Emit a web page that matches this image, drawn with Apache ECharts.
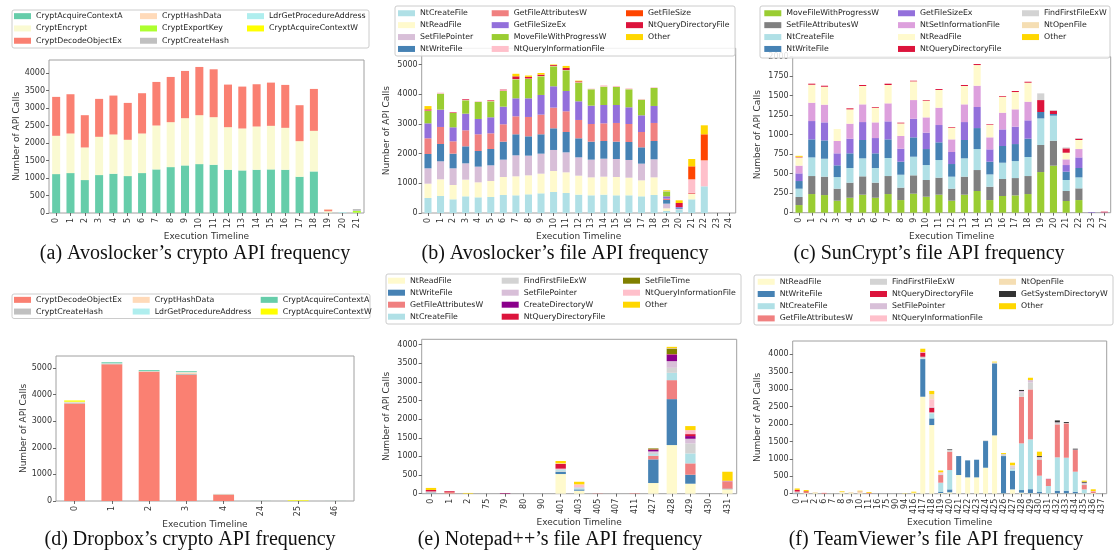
<!DOCTYPE html>
<html>
<head>
<meta charset="utf-8">
<script src="https://cdn.jsdelivr.net/npm/echarts@6/dist/echarts.min.js"></script>
<style>
html,body{margin:0;padding:0;background:#fff;}
#c{width:1115px;height:557px;}
</style>
</head>
<body>
<div id="c"></div>
<script>
// ---------- (a) Avoslocker crypto ----------
const aCats = ['0','1','2','3','4','5','6','7','8','9','10','11','12','13','14','15','16','17','18','19','20','21'];
const aCryptAcquireContextA = [1114,1143,943,1086,1124,1057,1143,1248,1314,1362,1400,1381,1238,1219,1238,1248,1238,1038,1190,10,0,5];
const aCryptEncrypt = [1096,1133,933,1095,1124,1038,1133,1257,1286,1352,1400,1362,1219,1200,1238,1247,1200,1019,1162,40,0,0];
const aCryptDecodeObjectEx = [1114,1124,924,1086,1114,1057,1153,1247,1295,1353,1381,1371,1219,1200,1210,1238,1229,1029,1200,50,0,0];
const aCryptHashData = [0,0,0,0,0,0,0,0,0,0,0,0,0,0,0,0,0,0,0,15,0,5];
const aCryptExportKey = [0,0,0,0,0,0,0,0,0,0,0,0,0,0,0,0,0,0,0,0,0,50];
const aCryptCreateHash = [0,0,0,0,0,0,0,0,0,0,0,0,0,0,0,0,0,0,0,0,0,55];
const aLdrGetProcedureAddress = [0,0,0,0,0,0,0,0,0,0,0,0,0,0,0,0,0,0,0,0,20,0];
const aCryptAcquireContextW = [0,0,0,0,0,0,0,0,0,0,0,0,0,0,0,0,0,0,0,0,0,0];

// ---------- (b) Avoslocker file ----------
const bCats = ['0','1','2','3','4','5','6','7','8','9','10','11','12','13','14','15','16','17','18','19','20','21','22','23','24'];
const bNtCreateFile = [506,573,461,562,528,539,607,596,629,663,708,674,618,596,618,596,596,562,607,67,112,461,899,0,0];
const bNtReadFile = [483,562,483,562,506,540,606,640,641,663,708,697,640,606,607,617,595,539,595,90,0,179,0,0,0];
const bSetFilePointer = [517,607,562,550,528,528,585,708,663,674,708,674,618,596,606,607,596,562,607,158,30,0,0,0,0];
const bNtWriteFile = [483,584,494,573,528,550,606,708,651,652,730,685,641,606,596,584,606,550,618,123,30,0,0,0,0];
const bGetFileAttributesW = [528,573,416,540,562,528,585,606,652,663,697,697,618,596,595,630,607,517,607,45,0,45,0,0,0];
const bGetFileSizeEx = [505,584,472,561,517,540,595,607,629,663,719,685,629,618,618,606,562,562,573,79,30,0,0,0,0];
const bMoveFileWithProgressW = [416,539,483,450,573,539,528,641,652,629,674,697,629,551,618,607,607,528,606,168,0,0,0,0,0];
const bNtQueryInformationFile = [15,34,15,10,22,14,25,10,15,10,10,10,15,22,45,34,33,23,23,10,0,450,876,0,0];
const bGetFileSize = [0,0,0,0,0,0,0,0,0,0,0,0,0,0,0,0,0,0,0,0,0,438,877,0,0];
const bNtQueryDirectoryFile = [40,0,18,23,0,20,20,90,55,45,30,70,30,0,0,0,0,0,0,0,135,0,0,0,0];
const bOther = [110,0,0,0,0,0,0,85,45,55,20,67,23,0,0,0,0,0,0,24,90,247,303,0,0];

// ---------- (c) SunCrypt file ----------
const cCats = ['0','1','2','3','4','5','6','7','8','9','10','11','12','13','14','15','16','17','18','19','20','21','22','23','27'];
const cMoveFileWithProgressW = [98,239,226,154,192,231,192,239,162,244,205,231,154,231,278,162,214,222,239,521,603,150,162,0,0];
const cSetFileAttributesW = [103,231,236,154,193,235,193,231,159,235,214,218,154,231,269,171,218,222,231,347,320,128,150,0,0];
const cNtCreateFile = [107,239,230,149,188,231,188,231,166,239,192,226,154,235,269,158,209,218,244,341,321,141,141,0,0];
const cNtWriteFile = [98,231,235,150,188,235,188,239,167,248,205,227,162,235,269,163,214,218,235,82,21,107,120,0,0];
const cGetFileSizeEx = [98,235,231,154,188,230,196,231,167,239,210,222,154,230,270,158,213,223,235,0,0,85,136,8,0];
const cNtSetInformationFile = [99,235,227,158,192,227,201,231,162,239,196,222,162,227,273,154,214,222,239,0,0,73,107,0,5];
const cNtReadFile = [106,231,230,154,184,235,188,235,162,240,214,227,150,235,265,158,205,222,244,0,0,85,116,0,0];
const cNtQueryDirectoryFile = [8,13,13,0,13,13,9,17,9,8,8,12,8,13,13,8,9,13,12,153,43,56,17,0,8];
const cFindFirstFileExW = [0,0,0,0,0,0,0,0,0,0,0,0,0,0,0,0,0,0,0,86,8,13,8,0,0];
const cNtOpenFile = [0,0,0,0,0,0,0,0,0,0,0,0,0,0,0,0,0,0,0,0,0,0,0,0,0];
const cOther = [12,0,0,0,0,0,0,0,0,0,0,0,0,0,0,0,0,0,0,0,0,0,0,0,0];

// ---------- (d) Dropbox crypto ----------
const dCats = ['0','1','2','3','4','24','25','46'];
const dCryptDecodeObjectEx = [3660,5140,4860,4735,240,0,0,0];
const dCryptCreateHash = [40,15,10,40,10,0,0,0];
const dCryptHashData = [15,10,10,60,10,0,0,0];
const dLdrGetProcedureAddress = [5,10,0,20,0,0,0,0];
const dCryptAcquireContextA = [10,40,40,30,5,3,0,2];
const dCryptAcquireContextW = [50,0,0,0,0,0,25,0];

// ---------- (e) Notepad++ file ----------
const eCats = ['0','1','2','75','79','80','90','401','403','405','407','411','427','428','429','430','431'];
const eNtReadFile = [10,5,5,0,0,0,0,527,80,0,0,0,286,1304,268,0,120];
const eNtWriteFile = [15,0,0,0,0,0,0,55,35,0,0,0,634,1232,241,0,15];
const eGetFileAttributesW = [10,40,0,0,0,0,0,10,0,8,0,12,98,509,304,0,178];
const eNtCreateFile = [15,5,0,0,0,0,0,40,30,0,0,0,44,196,267,0,8];
const eFindFirstFileExW = [5,0,0,0,0,0,0,20,20,0,0,0,36,134,268,0,5];
const eSetFilePointer = [5,0,0,0,0,0,0,20,15,0,0,0,36,179,125,0,5];
const eCreateDirectoryW = [0,0,0,0,12,0,0,0,0,0,0,0,40,178,72,0,0];
const eNtQueryDirectoryFile = [40,20,0,0,6,0,0,125,0,0,0,0,15,10,53,0,17];
const eSetFileTime = [0,0,0,0,0,0,0,0,0,0,0,0,25,151,0,0,0];
const eNtQueryInformationFile = [0,0,0,0,0,0,0,15,70,0,0,0,0,10,107,0,0];
const eOther = [55,0,15,0,0,0,0,65,70,0,0,0,0,35,108,0,241];

// ---------- (f) TeamViewer file ----------
const fCats = ['0','1','2','6','7','8','9','10','11','16','75','90','94','416','417','418','419','420','421','422','423','424','425','426','427','428','429','430','431','432','433','434','435','436','437'];
const fNtReadFile = [10,20,25,0,3,40,30,40,0,0,0,0,10,30,2785,1971,20,40,536,469,469,746,1675,10,124,30,15,10,5,10,10,10,10,20,0];
const fNtWriteFile = [15,0,0,0,0,0,0,0,0,0,0,0,0,0,1081,192,40,84,545,488,507,766,2067,1071,536,75,115,38,0,76,76,47,0,0,0];
const fNtCreateFile = [15,0,0,0,0,0,0,0,0,0,0,0,0,0,20,143,256,555,0,0,0,0,0,0,39,1340,1430,469,215,957,947,575,114,0,0];
const fGetFileAttributesW = [30,30,0,20,0,0,0,20,25,0,0,0,0,0,0,0,220,527,0,0,0,0,0,0,0,1340,1435,450,191,947,986,622,125,47,0];
const fFindFirstFileExW = [0,0,0,0,0,0,0,0,0,0,0,0,0,0,47,30,20,48,0,0,0,19,20,58,60,124,200,50,0,40,10,0,30,0,0];
const fNtQueryDirectoryFile = [40,20,0,0,0,0,0,0,0,0,0,0,0,0,120,134,0,0,0,0,0,0,0,0,0,0,0,0,10,0,0,0,0,0,0];
const fSetFilePointer = [0,0,0,0,0,0,0,10,0,0,0,0,0,0,0,23,20,0,0,0,0,0,0,0,30,40,68,40,15,20,0,15,37,0,0];
const fNtQueryInformationFile = [0,0,0,9,0,0,0,0,0,0,0,0,0,0,15,220,40,0,0,0,0,0,0,0,0,0,0,0,0,0,0,0,0,10,0];
const fNtOpenFile = [0,0,20,0,0,20,18,0,0,0,0,0,0,0,0,144,0,0,0,0,0,0,10,0,31,0,0,0,0,0,0,0,0,0,0];
const fGetSystemDirectoryW = [0,0,0,0,0,0,0,0,0,0,0,0,0,0,0,0,0,19,0,0,0,0,0,0,0,30,0,30,0,55,28,23,28,0,0];
const fOther = [40,35,0,0,0,17,0,16,23,0,0,0,5,27,95,95,50,0,0,0,0,0,20,28,70,0,67,120,0,0,0,0,30,50,0];

// ---------- styling ----------
const COLORS = {
  CryptAcquireContextA:'#66CDAA', CryptEncrypt:'#FAFAD2', CryptDecodeObjectEx:'#FA8072',
  CryptHashData:'#FFDAB9', CryptExportKey:'#ADFF2F', CryptCreateHash:'#C0C0C0',
  LdrGetProcedureAddress:'#AFEEEE', CryptAcquireContextW:'#FFFF00',
  NtCreateFile:'#B0E0E6', NtReadFile:'#FFFACD', SetFilePointer:'#D8BFD8', NtWriteFile:'#4682B4',
  GetFileAttributesW:'#F08080', GetFileSizeEx:'#9370DB', MoveFileWithProgressW:'#9ACD32',
  NtQueryInformationFile:'#FFC0CB', GetFileSize:'#FF4500', NtQueryDirectoryFile:'#DC143C',
  Other:'#FFD700', SetFileAttributesW:'#808080', NtSetInformationFile:'#DDA0DD',
  FindFirstFileExW:'#D3D3D3', NtOpenFile:'#F5DEB3', CreateDirectoryW:'#8B008B',
  SetFileTime:'#808000', GetSystemDirectoryW:'#333333'
};

const panels = [
  { cats:aCats, series:[['CryptAcquireContextA',aCryptAcquireContextA],['CryptEncrypt',aCryptEncrypt],['CryptDecodeObjectEx',aCryptDecodeObjectEx],['CryptHashData',aCryptHashData],['CryptExportKey',aCryptExportKey],['CryptCreateHash',aCryptCreateHash],['LdrGetProcedureAddress',aLdrGetProcedureAddress],['CryptAcquireContextW',aCryptAcquireContextW]],
    grid:{left:49,top:60,width:315,height:153}, max:4380, interval:500, showMax:false, yGap:28, xGap:14,
    cols:[3,3,2], legLeft:[14,140,247], legTop:10, legLH:12.3, frame:[12,10,357,38],
    caption:'(a) Avoslocker\u2019s crypto API frequency', capX:195, capY:254 },
  { cats:bCats, series:[['NtCreateFile',bNtCreateFile],['NtReadFile',bNtReadFile],['SetFilePointer',bSetFilePointer],['NtWriteFile',bNtWriteFile],['GetFileAttributesW',bGetFileAttributesW],['GetFileSizeEx',bGetFileSizeEx],['MoveFileWithProgressW',bMoveFileWithProgressW],['NtQueryInformationFile',bNtQueryInformationFile],['GetFileSize',bGetFileSize],['NtQueryDirectoryFile',bNtQueryDirectoryFile],['Other',bOther]],
    grid:{left:421.7,top:48.3,width:314,height:164.7}, max:5550, interval:1000, showMax:false, yGap:31, xGap:13,
    cols:[4,4,3], legLeft:[398,491.7,626], legTop:7.3, legLH:11.9, frame:[395,6,340,50],
    caption:'(b) Avoslocker\u2019s file API frequency', capX:565, capY:254 },
  { cats:cCats, series:[['MoveFileWithProgressW',cMoveFileWithProgressW],['SetFileAttributesW',cSetFileAttributesW],['NtCreateFile',cNtCreateFile],['NtWriteFile',cNtWriteFile],['GetFileSizeEx',cGetFileSizeEx],['NtSetInformationFile',cNtSetInformationFile],['NtReadFile',cNtReadFile],['NtQueryDirectoryFile',cNtQueryDirectoryFile],['FindFirstFileExW',cFindFirstFileExW],['NtOpenFile',cNtOpenFile],['Other',cOther]],
    grid:{left:792.7,top:56.7,width:318,height:156}, max:2000, interval:250, showMax:true, yGap:31, xGap:13.5,
    cols:[4,4,3], legLeft:[764.3,898,1022], legTop:7.3, legLH:11.9, frame:[760,6,350,52],
    caption:'(c) SunCrypt\u2019s file API frequency', capX:929, capY:254 },
  { cats:dCats, series:[['CryptDecodeObjectEx',dCryptDecodeObjectEx],['CryptCreateHash',dCryptCreateHash],['CryptHashData',dCryptHashData],['LdrGetProcedureAddress',dLdrGetProcedureAddress],['CryptAcquireContextA',dCryptAcquireContextA],['CryptAcquireContextW',dCryptAcquireContextW]],
    grid:{left:56,top:356,width:298,height:145}, max:5450, interval:1000, showMax:false, yGap:24, xGap:10.5,
    cols:[2,2,2], legLeft:[14,132.7,260.7], legTop:294, legLH:11.7, frame:[12,294,358,24.5],
    caption:'(d) Dropbox\u2019s crypto API frequency', capX:190, capY:540 },
  { cats:eCats, series:[['NtReadFile',eNtReadFile],['NtWriteFile',eNtWriteFile],['GetFileAttributesW',eGetFileAttributesW],['NtCreateFile',eNtCreateFile],['FindFirstFileExW',eFindFirstFileExW],['SetFilePointer',eSetFilePointer],['CreateDirectoryW',eCreateDirectoryW],['NtQueryDirectoryFile',eNtQueryDirectoryFile],['SetFileTime',eSetFileTime],['NtQueryInformationFile',eNtQueryInformationFile],['Other',eOther]],
    grid:{left:421.7,top:339.3,width:315,height:154.4}, max:4140, interval:500, showMax:false, yGap:31, xGap:19,
    cols:[4,4,3], legLeft:[388,501.7,623], legTop:274.7, legLH:12, frame:[386,274,355,50],
    caption:'(e) Notepad++\u2019s file API frequency', capX:560, capY:540 },
  { cats:fCats, series:[['NtReadFile',fNtReadFile],['NtWriteFile',fNtWriteFile],['NtCreateFile',fNtCreateFile],['GetFileAttributesW',fGetFileAttributesW],['FindFirstFileExW',fFindFirstFileExW],['NtQueryDirectoryFile',fNtQueryDirectoryFile],['SetFilePointer',fSetFilePointer],['NtQueryInformationFile',fNtQueryInformationFile],['NtOpenFile',fNtOpenFile],['GetSystemDirectoryW',fGetSystemDirectoryW],['Other',fOther]],
    grid:{left:792.7,top:341,width:314,height:152.7}, max:4385, interval:500, showMax:false, yGap:31, xGap:19,
    cols:[4,4,3], legLeft:[757.7,870,999], legTop:275.7, legLH:12.2, frame:[754,275,359,50],
    caption:'(f) TeamViewer\u2019s file API frequency', capX:936, capY:540 }
];

const FONT = 'DejaVu Sans';
const grids = [], xAxes = [], yAxes = [], series = [], legends = [], graphics = [];

panels.forEach((p, i) => {
  grids.push(Object.assign({show:true, borderColor:'#a0a0a0', borderWidth:1, backgroundColor:'#fff', containLabel:false}, p.grid));
  xAxes.push({
    type:'category', gridIndex:i, data:p.cats,
    axisLine:{show:false},
    axisTick:{show:true, alignWithLabel:true, length:3, lineStyle:{color:'#444', width:0.8}},
    axisLabel:{rotate:90, interval:0, fontSize:8, color:'#333', fontFamily:FONT, margin:5},
    name:'Execution Timeline', nameLocation:'middle', nameGap:p.xGap,
    nameTextStyle:{fontSize:9, color:'#333', fontFamily:FONT, verticalAlign:'top'}
  });
  yAxes.push({
    type:'value', gridIndex:i, min:0, max:p.max, interval:p.interval,
    splitLine:{show:false}, axisLine:{show:false},
    axisTick:{show:true, length:3, lineStyle:{color:'#444', width:0.8}},
    axisLabel:{fontSize:8, color:'#333', fontFamily:FONT, margin:4, showMaxLabel:p.showMax,
      formatter:function (v) { return String(v); }},
    name:'Number of API Calls', nameLocation:'middle', nameGap:p.yGap,
    nameTextStyle:{fontSize:9, color:'#333', fontFamily:FONT}
  });
  p.series.forEach(([name, arr]) => {
    series.push({
      type:'bar', name:name, xAxisIndex:i, yAxisIndex:i, stack:'s'+i,
      data:arr, barWidth:'56%', itemStyle:{color:COLORS[name]},
      emphasis:{disabled:true}, animation:false
    });
  });
  // legend columns (column-major order like matplotlib)
  let k = 0;
  p.cols.forEach((n, c) => {
    const names = p.series.slice(k, k + n).map(s => s[0]);
    k += n;
    legends.push({
      show:true, orient:'vertical', left:p.legLeft[c], top:p.legTop, padding:0, itemGap:0,
      itemWidth:17, itemHeight:6, icon:'rect', selectedMode:false, z:6,
      data:names,
      textStyle:{fontSize:7.8, lineHeight:p.legLH, color:'#222', fontFamily:FONT}
    });
  });
  graphics.push({
    type:'rect', z:5, silent:true,
    shape:{x:p.frame[0], y:p.frame[1], width:p.frame[2], height:p.frame[3], r:2},
    style:{fill:'rgba(255,255,255,0.85)', stroke:'#cccccc', lineWidth:1}
  });
  graphics.push({
    type:'text', z:5, silent:true, x:p.capX, y:p.capY,
    style:{text:p.caption, textAlign:'center', textVerticalAlign:'middle',
      font:'20px "Liberation Serif", serif', fill:'#111'}
  });
});

const chart = echarts.init(document.getElementById('c'), null, {renderer:'canvas'});
chart.setOption({
  backgroundColor:'#fff',
  animation:false,
  grid:grids, xAxis:xAxes, yAxis:yAxes, series:series, legend:legends,
  graphic:{elements:graphics}
});
</script>
</body>
</html>
